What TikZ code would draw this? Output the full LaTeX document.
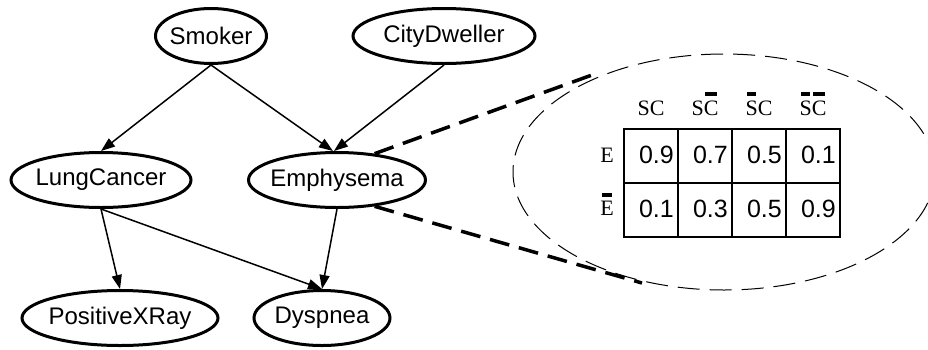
\documentclass[tikz,border=0pt]{standalone}
\usepackage{fontspec}
\setmainfont{Liberation Sans}
\newfontfamily\serifnote{Liberation Serif}
\usepackage{tikz}
\usetikzlibrary{shapes.geometric}
\usetikzlibrary{arrows.meta}

\newsavebox{\negbox}
\newcommand{\nbar}[1]{\sbox{\negbox}{#1}\rlap{\hspace{1.5pt}\raisebox{\dimexpr\ht\negbox+4pt\relax}{\rule{\dimexpr\wd\negbox-3pt\relax}{4pt}}}\usebox{\negbox}}

\begin{document}
\begin{tikzpicture}[x=1pt,y=-1pt,
    var/.style={draw,ellipse,line width=3pt,inner xsep=-6pt,inner ysep=0pt,minimum height=55pt,font=\fontsize{24}{28}\selectfont},
    dep/.style={-{Triangle[length=14pt,width=10pt]},line width=1.5pt},
    zoomline/.style={line width=3.5pt,dash pattern=on 20pt off 10pt},
    cell/.style={anchor=base east,inner sep=0pt,font=\fontsize{25}{30}\selectfont},
    head/.style={anchor=base,inner sep=0pt,font=\serifnote\fontsize{22}{26}\selectfont}]
  \clip (0,0) rectangle (928,349);

  % network
  \node[var,minimum width=111pt] (smoker) at (211,36) {Smoker};
  \node[var,minimum width=182pt] (city) at (444,36) {CityDweller};
  \node[var,minimum width=180pt] (lung) at (101,180) {LungCancer};
  \node[var,minimum width=177pt] (emph) at (337,180) {Emphysema};
  \node[var,minimum width=196pt] (xray) at (120,318) {PositiveXRay};
  \node[var,minimum width=136pt] (dysp) at (322,318) {Dyspnea};

  \draw[dep] (smoker.south) -- (lung.north);
  \draw[dep] (smoker.south) -- (emph.98);
  \draw[dep] (city.south) -- (emph.96);
  \draw[dep] (lung.south) -- (xray.north);
  \draw[dep] (lung.south) -- (dysp.north);
  \draw[dep] (emph.south) -- (dysp.north);

  % zoom on the table of Emphysema
  \coordinate (zoomtop) at (592,75);
  \coordinate (zoombot) at (642,283);
  \draw[zoomline] (emph.35) -- (zoomtop);
  \draw[zoomline] (emph.-35) -- (zoombot);
  \draw[line width=1pt,dash pattern=on 22pt off 10pt] (724,172) ellipse [x radius=211, y radius=118];

  \draw[line width=2pt] (624,129) rectangle (840,237);
  \draw[line width=2pt] (624,183) -- (840,183);
  \foreach \x in {678,732,786}
    \draw[line width=2pt] (\x,129) -- (\x,237);

  \foreach \v [count=\i] in {0.9,0.7,0.5,0.1}
    \node[cell] (e\i) at ({624+54*\i-4},163) {\v};
  \foreach \v [count=\i] in {0.1,0.3,0.5,0.9}
    \node[cell] (ne\i) at ({624+54*\i-4},217) {\v};

  \node[head] (sc) at (651,115) {SC};
  \node[head] (snc) at (705,115) {S\nbar{C}};
  \node[head] (nsc) at (759,115) {\nbar{S}C};
  \node[head] (nsnc) at (813,115) {\nbar{S}\nbar{C}};
  \node[head] (rowe) at (607,162) {E};
  \node[head] (rowne) at (607,215) {\nbar{E}};
\end{tikzpicture}
\end{document}
